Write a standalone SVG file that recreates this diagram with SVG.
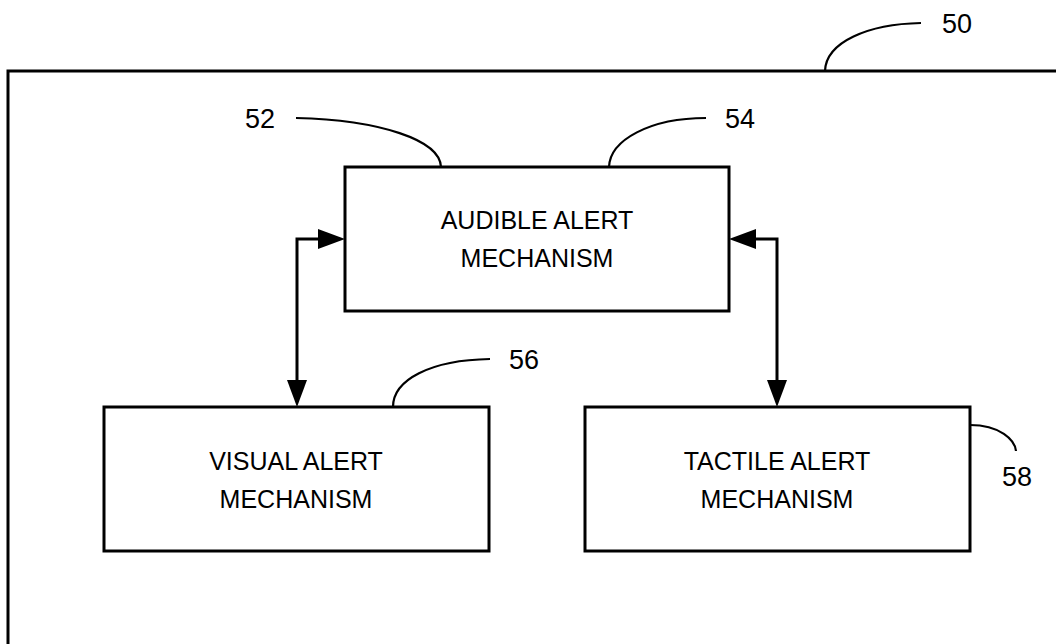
<svg xmlns="http://www.w3.org/2000/svg" width="1056" height="644" viewBox="0 0 1056 644">
  <style>
    .box { fill: #ffffff; stroke: #000000; stroke-width: 3; }
    .lbl { font-family: "Liberation Sans", Arial, sans-serif; font-size: 25px; fill: #000000; text-anchor: middle; }
    .ref { font-family: "Liberation Sans", Arial, sans-serif; font-size: 27px; fill: #000000; }
    .lead { fill: none; stroke: #000000; stroke-width: 2.2; }
    .conn { fill: none; stroke: #000000; stroke-width: 3; stroke-linejoin: miter; }
  </style>
  <defs>
    <marker id="arr" markerUnits="userSpaceOnUse" markerWidth="28" markerHeight="22" refX="0" refY="11" viewBox="0 0 28 22" orient="auto-start-reverse">
      <path d="M0,1 L27,11 L0,21 Z" fill="#000000"/>
    </marker>
  </defs>
  <rect width="1056" height="644" fill="#ffffff"/>

  <g id="n50">
    <path d="M8,646 V71 H1058" fill="none" stroke="#000000" stroke-width="3"/>
    <path class="lead" d="M921,23 C868,24 826,42 825,71"/>
    <text class="ref" x="942" y="33">50</text>
  </g>

  <g id="n52">
    <rect class="box" x="345" y="167" width="384" height="144"/>
    <text class="lbl" x="537" y="229">AUDIBLE ALERT</text>
    <text class="lbl" x="537" y="267">MECHANISM</text>
    <path class="lead" d="M296,118 C380,120 440,140 441,167"/>
    <text class="ref" x="245" y="128">52</text>
    <path class="lead" d="M706,118 C650,118 610,140 609,167"/>
    <text class="ref" x="725" y="128">54</text>
  </g>

  <g id="n56">
    <rect class="box" x="104" y="407" width="385" height="144"/>
    <text class="lbl" x="296" y="470">VISUAL ALERT</text>
    <text class="lbl" x="296" y="508">MECHANISM</text>
    <path class="lead" d="M490,359 C430,360 393,380 393,407"/>
    <text class="ref" x="509" y="369">56</text>
  </g>

  <g id="n58">
    <rect class="box" x="585" y="407" width="385" height="144"/>
    <text class="lbl" x="777" y="470">TACTILE ALERT</text>
    <text class="lbl" x="777" y="508">MECHANISM</text>
    <path class="lead" d="M970,425 C1000,425 1015,440 1016,451"/>
    <text class="ref" x="1002" y="486">58</text>
  </g>

  <g id="connectors">
    <path class="conn" d="M318,239 H297 V380" marker-start="url(#arr)" marker-end="url(#arr)"/>
    <path class="conn" d="M756,239 H777 V380" marker-start="url(#arr)" marker-end="url(#arr)"/>
  </g>
</svg>
